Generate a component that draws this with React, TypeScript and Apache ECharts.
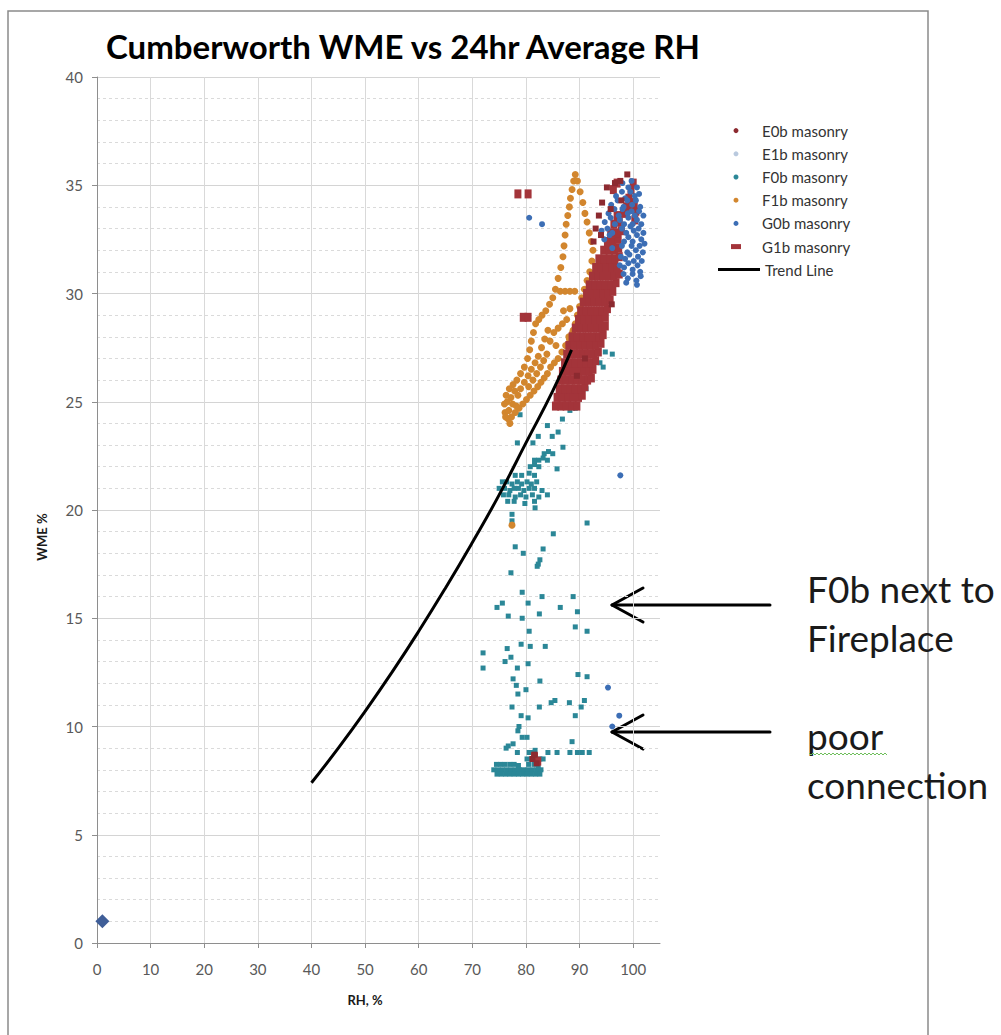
import React, { useEffect, useRef } from "react";
import * as echarts from "echarts";

// ---- data: [RH %, WME %] ----
const e0bMasonry: [number, number][] = [
  [98.9, 35.5], [97.6, 35.2], [96.6, 35.1], [95.1, 34.9], [94.2, 34.2], [93.6, 33.6],
  [93.0, 33.0], [95.8, 33.9], [92.6, 32.4], [94.0, 32.7], [96.0, 29.5], [91.0, 27.0],
  [89.5, 26.2], [97.8, 34.3], [81.2, 8.5], [82.0, 8.3], [81.6, 8.7],
];

const e1bMasonry: [number, number][] = [];

const f0bMasonry: [number, number][] = [
  [94.8, 27.3], [96.1, 27.2], [93.8, 26.8], [94.4, 26.6], [90.1, 26.0], [91.2, 25.6],
  [88.2, 24.6], [89.2, 24.7], [86.8, 24.2], [78.9, 24.4], [84.0, 23.9], [86.0, 23.6],
  [84.9, 23.4], [82.3, 23.4], [78.4, 23.1], [81.3, 23.1], [86.9, 22.9],
  [83.4, 22.6], [84.2, 22.7], [85.0, 22.6], [81.6, 22.3], [82.4, 22.3], [83.2, 22.4],
  [84.0, 22.3], [80.8, 22.0], [81.6, 22.1], [82.4, 22.0], [85.8, 21.9],
  [78.0, 21.6], [79.2, 21.6], [80.6, 21.7], [81.6, 21.6],
  [75.6, 21.3], [76.4, 21.3], [77.4, 21.2], [78.4, 21.3], [79.2, 21.2], [80.2, 21.3],
  [81.0, 21.2], [82.0, 21.3],
  [75.0, 21.0], [76.0, 21.0], [77.0, 20.9], [77.8, 21.0], [78.6, 21.0], [79.6, 20.9],
  [80.6, 21.0], [81.6, 21.0], [83.0, 20.9],
  [75.8, 20.7], [76.8, 20.7], [78.0, 20.6], [79.0, 20.7], [80.0, 20.6], [81.2, 20.7],
  [82.4, 20.6], [84.0, 20.7],
  [76.6, 20.4], [77.8, 20.4], [79.8, 20.3], [81.6, 20.4], [81.7, 20.1],
  [77.4, 19.8], [77.4, 19.5], [91.4, 19.4], [85.1, 18.9], [78.0, 18.3], [79.5, 18.0],
  [83.2, 18.2], [82.6, 17.7], [82.3, 17.5], [82.1, 17.4], [77.2, 17.1], [79.3, 16.2],
  [83.0, 16.0], [88.8, 16.0], [74.6, 15.5], [75.6, 15.7], [80.4, 15.7], [86.4, 15.5],
  [89.6, 15.3], [76.7, 15.1], [79.3, 15.0], [82.5, 15.2], [89.2, 14.6], [91.4, 14.4],
  [80.6, 14.4], [79.1, 13.8], [80.8, 13.7], [83.6, 13.7], [76.5, 13.6], [72.0, 13.4],
  [77.2, 13.2], [76.1, 13.0], [72.0, 12.7], [78.4, 12.7], [80.4, 12.9], [89.7, 12.4],
  [91.4, 12.3], [77.6, 12.2], [78.2, 11.9], [82.6, 12.1], [80.0, 11.7], [78.5, 11.5],
  [84.7, 11.1], [85.4, 11.2], [88.1, 11.1], [90.9, 11.2], [77.4, 10.9], [82.5, 10.9],
  [90.3, 10.9], [79.1, 10.5], [80.4, 10.4], [89.2, 10.5], [78.7, 10.0], [78.5, 9.8],
  [79.3, 9.5], [80.2, 9.5], [77.6, 9.2], [76.7, 9.1], [76.3, 9.0], [88.6, 9.3],
  [78.4, 8.8], [81.7, 8.9], [81.3, 8.8], [84.1, 8.8], [85.8, 8.8], [88.2, 8.8],
  [89.6, 8.8], [90.5, 8.8], [91.8, 8.8], [80.6, 8.8],
  [80.2, 8.5], [81.0, 8.5], [81.8, 8.5], [82.6, 8.5], [83.2, 8.5],
  [74.5, 8.25], [75.3, 8.25], [76.1, 8.25], [77.0, 8.25], [77.8, 8.25], [78.6, 8.2],
  [80.5, 8.25], [81.5, 8.25], [82.3, 8.2],
  [74.0, 8.0], [74.8, 8.0], [75.6, 8.0], [76.4, 8.0], [77.2, 8.0], [78.0, 8.0],
  [78.8, 8.0], [79.6, 8.0], [80.4, 8.0], [81.2, 8.0], [82.0, 8.0], [82.8, 8.0],
  [74.6, 7.8], [75.4, 7.8], [76.2, 7.8], [77.0, 7.8], [77.8, 7.8], [78.6, 7.8],
  [79.4, 7.8], [80.2, 7.8], [81.0, 7.8], [81.8, 7.8], [82.6, 7.8],
];

const f1bMasonry: [number, number][] = [
  // outer strand
  [89.2, 35.5], [88.9, 35.2], [88.6, 34.8], [88.3, 34.4], [88.1, 34.0], [87.8, 33.6],
  [87.5, 33.2], [87.3, 32.7], [87.1, 32.2], [86.9, 31.7], [86.5, 31.2], [86.0, 30.7],
  [85.5, 30.2], [85.0, 29.8], [84.4, 29.5], [83.7, 29.2], [83.0, 29.0], [82.4, 28.8],
  [81.8, 28.6], [81.4, 28.2], [81.0, 27.8], [80.7, 27.4], [80.3, 27.0], [79.7, 26.6],
  [79.0, 26.3], [78.3, 26.0], [77.6, 25.8], [76.9, 25.6], [76.3, 25.3], [76.0, 24.9],
  [76.1, 24.5], [76.7, 24.2], [77.3, 24.3],
  // inner strand
  [89.6, 35.2], [90.1, 34.7], [90.6, 34.2], [91.0, 33.7], [91.4, 33.3], [91.8, 32.8],
  [92.2, 32.4], [92.5, 32.0], [92.3, 31.5], [91.9, 31.0], [91.4, 30.6], [90.9, 30.2],
  [90.4, 29.8], [90.0, 29.4], [89.6, 29.0], [89.2, 28.6], [88.7, 28.2], [88.1, 27.9],
  [87.4, 27.6], [86.7, 27.3], [86.0, 27.0], [85.3, 26.8], [84.6, 26.6], [84.0, 26.3],
  [83.4, 26.1], [82.8, 25.9], [82.2, 25.7], [81.5, 25.5], [80.8, 25.3], [80.1, 25.1],
  [79.4, 24.9], [78.7, 24.7], [78.0, 24.5],
  // between the strands
  [86.4, 30.1], [87.3, 30.1], [88.2, 30.1], [89.1, 30.1],
  [85.2, 28.2], [86.0, 28.4], [86.8, 28.6], [87.6, 28.8], [88.2, 29.3], [87.0, 29.2],
  [84.5, 27.8], [85.6, 27.6], [88.0, 28.0], [88.8, 28.3], [89.4, 28.0], [88.6, 27.6],
  [76.2, 24.3], [76.8, 24.6], [77.5, 24.9], [76.5, 25.0], [77.2, 25.2], [77.9, 25.5],
  [78.5, 25.3], [77.0, 24.0], [78.2, 24.8], [79.0, 25.6], [79.7, 25.9], [80.4, 26.2],
  [81.0, 26.5], [81.7, 26.8], [82.3, 27.1], [82.9, 27.5], [83.5, 27.9], [84.1, 28.3],
  [80.5, 25.7], [81.3, 26.0], [82.0, 26.3], [82.7, 26.6], [83.3, 26.9], [83.9, 27.2],
  [77.4, 19.3],
];

const g0bMasonry: [number, number][] = [
  [98.0, 35.1], [99.1, 34.9], [99.7, 35.2], [100.7, 34.9],
  [96.8, 34.5], [97.9, 34.7], [98.5, 34.4], [99.5, 34.7], [100.3, 34.5], [101.1, 34.6],
  [95.9, 34.1], [97.1, 34.3], [98.2, 34.0], [98.9, 34.3], [99.8, 34.1], [100.5, 34.3], [101.3, 34.0],
  [95.4, 33.7], [96.5, 33.9], [97.3, 33.6], [98.0, 33.9], [99.0, 33.7], [99.7, 33.8],
  [100.3, 33.6], [101.1, 33.8], [101.9, 33.6],
  [94.7, 33.3], [95.8, 33.5], [96.6, 33.2], [97.5, 33.4], [98.3, 33.2], [99.1, 33.5],
  [99.9, 33.2], [100.7, 33.4], [101.5, 33.2],
  [94.1, 32.9], [95.2, 33.0], [96.1, 32.8], [97.9, 33.0], [98.7, 32.8], [99.5, 33.1],
  [100.1, 32.9], [101.0, 33.0], [101.9, 32.8],
  [94.6, 32.5], [95.6, 32.7], [98.3, 32.4], [99.1, 32.6], [99.9, 32.4], [100.7, 32.7],
  [101.5, 32.5], [102.1, 32.3],
  [96.1, 32.1], [97.9, 32.2], [98.9, 31.9], [99.7, 32.2], [100.5, 32.0], [101.2, 32.2], [101.8, 31.9],
  [97.7, 31.7], [98.5, 31.6], [99.3, 31.8], [100.1, 31.5], [100.9, 31.7], [101.6, 31.5],
  [97.5, 31.3], [98.3, 31.2], [99.1, 31.4], [99.9, 31.1], [100.8, 31.3], [101.3, 31.0],
  [98.2, 30.9], [99.0, 30.7], [99.9, 30.9], [100.6, 30.6],
  [98.7, 30.5], [100.7, 30.4], [101.4, 30.8],
  [83.0, 33.2], [80.6, 33.5],
  [97.6, 21.6], [95.3, 11.8], [96.1, 10.0], [97.4, 10.5],
];

const g1bMasonry: [number, number][] = [
  [85.5, 24.8], [86.5, 24.8], [87.5, 24.8], [88.5, 24.8], [89.5, 24.8],
  [85.8, 25.2], [86.8, 25.2], [87.8, 25.2], [88.8, 25.2], [89.8, 25.2], [90.5, 25.3],
  [86.2, 25.6], [87.2, 25.6], [88.2, 25.6], [89.2, 25.6], [90.2, 25.6], [91.0, 25.7],
  [86.5, 26.0], [87.5, 26.0], [88.5, 26.0], [89.5, 26.0], [90.5, 26.0], [91.5, 26.0], [92.2, 26.1],
  [86.8, 26.4], [87.8, 26.4], [88.8, 26.4], [89.8, 26.4], [90.8, 26.4], [91.8, 26.4], [92.5, 26.5],
  [87.2, 26.8], [88.2, 26.8], [89.2, 26.8], [90.2, 26.8], [91.2, 26.8], [92.2, 26.8], [93.0, 26.9],
  [87.6, 27.2], [88.6, 27.2], [89.6, 27.2], [90.6, 27.2], [91.6, 27.2], [92.6, 27.2], [93.5, 27.3],
  [88.0, 27.6], [89.0, 27.6], [90.0, 27.6], [91.0, 27.6], [92.0, 27.6], [93.0, 27.6], [94.0, 27.7],
  [88.6, 28.0], [89.6, 28.0], [90.6, 28.0], [91.6, 28.0], [92.6, 28.0], [93.6, 28.0], [94.4, 28.1],
  [89.2, 28.4], [90.2, 28.4], [91.2, 28.4], [92.2, 28.4], [93.2, 28.4], [94.2, 28.4], [94.8, 28.5],
  [89.8, 28.8], [90.8, 28.8], [91.8, 28.8], [92.8, 28.8], [93.8, 28.8], [94.8, 28.9],
  [90.2, 29.2], [91.2, 29.2], [92.2, 29.2], [93.2, 29.2], [94.2, 29.2], [95.2, 29.3],
  [90.7, 29.6], [91.7, 29.6], [92.7, 29.6], [93.7, 29.6], [94.7, 29.6], [95.7, 29.7],
  [91.3, 30.0], [92.3, 30.0], [93.3, 30.0], [94.3, 30.0], [95.3, 30.0], [96.2, 30.1],
  [91.8, 30.4], [92.8, 30.4], [93.8, 30.4], [94.8, 30.4], [95.8, 30.4], [96.8, 30.5],
  [92.4, 30.8], [93.4, 30.8], [94.4, 30.8], [95.4, 30.8], [96.4, 30.8], [97.4, 30.9],
  [93.0, 31.2], [94.0, 31.2], [95.0, 31.2], [96.0, 31.2], [97.0, 31.2],
  [93.6, 31.6], [94.6, 31.6], [95.6, 31.6], [96.6, 31.6], [97.4, 31.7],
  [94.5, 32.0], [95.5, 32.0], [96.5, 32.0], [97.3, 32.1],
  [95.2, 32.4], [96.2, 32.4], [97.2, 32.5],
  [95.8, 32.8], [96.8, 32.8], [97.8, 32.9],
  [96.4, 33.2], [97.4, 33.3], [97.0, 33.6], [98.2, 33.7],
  [98.8, 34.0], [99.6, 34.1], [99.2, 34.4], [99.6, 34.8], [100.0, 35.1],
  [97.0, 35.1], [96.3, 34.8], [100.3, 33.4], [100.5, 33.8], [100.2, 34.2],
  [78.5, 34.6], [80.4, 34.6], [79.5, 28.9], [80.4, 28.9], [81.6, 8.6], [82.2, 8.4],
];

// visible part of the fitted trend
const trendLine: [number, number][] = [
  [40, 7.4], [45, 9.0], [50, 10.7], [55, 12.5], [60, 14.4], [65, 16.4], [70, 18.5],
  [75, 20.7], [80, 23.1], [85, 25.5], [88.5, 27.4],
];

const originMarker: [number, number][] = [[1, 1]];

const FONT = "Lato, 'Liberation Sans', sans-serif";

const seriesColors: Record<string, string> = {
  "E0b masonry": "#8C2A30",
  "E1b masonry": "#B9C9DE",
  "F0b masonry": "#2B8797",
  "F1b masonry": "#D2862E",
  "G0b masonry": "#3C6EB5",
  "G1b masonry": "#A3343A",
};

const scatterLegendNames = [
  "E0b masonry", "E1b masonry", "F0b masonry", "F1b masonry", "G0b masonry", "G1b masonry",
];

function buildSquiggle(x0: number, x1: number, y: number): number[][] {
  const pts: number[][] = [];
  let up = true;
  for (let x = x0; x <= x1; x += 2) {
    pts.push([x, up ? y - 1 : y + 1]);
    up = !up;
  }
  return pts;
}

function scatter(name: string, data: [number, number][], symbol: string, size: number | number[], z: number) {
  return {
    type: "scatter" as const,
    name,
    data,
    symbol,
    symbolSize: size,
    itemStyle: { color: seriesColors[name], opacity: 1 },
    z,
  };
}

function arrow(y: number) {
  const s = { stroke: "#000", lineWidth: 3, lineCap: "round" as const };
  return [
    { type: "line", shape: { x1: 613, y1: y, x2: 770, y2: y }, style: s },
    { type: "line", shape: { x1: 612, y1: y, x2: 643, y2: y - 17 }, style: s },
    { type: "line", shape: { x1: 612, y1: y, x2: 643, y2: y + 17 }, style: s },
  ];
}

function buildOption(): echarts.EChartsOption {
  const axisLabelStyle = { color: "#595959", fontSize: 15, fontFamily: FONT };
  return {
    animation: false,
    backgroundColor: "#ffffff",
    title: {
      text: "Cumberworth WME vs 24hr Average RH",
      left: 101,
      top: 24,
      textStyle: { fontFamily: FONT, fontWeight: "bold", fontSize: 33, color: "#000000" },
    },
    grid: { left: 97, top: 77, width: 563, height: 866, outerBoundsMode: "none" } as any,
    legend: [
      {
        orient: "vertical",
        left: 726,
        top: 114,
        itemWidth: 42,
        itemHeight: 5,
        itemGap: 0,
        selectedMode: false,
        textStyle: { fontFamily: FONT, fontSize: 15, color: "#333333", lineHeight: 23.2 },
        data: scatterLegendNames.map((n) =>
          n === "G1b masonry"
            ? { name: n, icon: "path://M0,0h10v5h-10z", itemStyle: { color: seriesColors[n] } }
            : { name: n, icon: "circle", itemStyle: { color: seriesColors[n] } }
        ),
      },
      {
        orient: "vertical",
        left: 713,
        top: 253,
        itemWidth: 42,
        itemHeight: 3,
        selectedMode: false,
        textStyle: { fontFamily: FONT, fontSize: 15, color: "#333333", lineHeight: 23.2 },
        data: [{ name: "Trend Line", icon: "rect", itemStyle: { color: "#000000" } }],
      },
    ],
    xAxis: {
      type: "value",
      min: 0,
      max: 105,
      interval: 10,
      axisLine: { show: true, lineStyle: { color: "#8E8E8E", width: 1 } },
      axisTick: { show: true, inside: false, length: 5, lineStyle: { color: "#8E8E8E" } },
      axisLabel: {
        ...axisLabelStyle,
        margin: 18,
        showMaxLabel: false,
        formatter: (v: number) => (v % 10 === 0 ? String(v) : ""),
      },
      splitLine: { show: true, showMaxLine: false, lineStyle: { color: "#D9D9D9", width: 1 } } as any,
    },
    yAxis: {
      type: "value",
      min: 0,
      max: 40,
      interval: 5,
      axisLine: { show: true, lineStyle: { color: "#8E8E8E", width: 1 } },
      axisTick: { show: true, inside: false, length: 5, lineStyle: { color: "#8E8E8E" } },
      axisLabel: { ...axisLabelStyle, margin: 14 },
      splitLine: { show: true, lineStyle: { color: "#D4D4D4", width: 1 } },
      minorTick: { show: false, splitNumber: 5 },
      minorSplitLine: { show: true, lineStyle: { color: "#DADADA", width: 1, type: [3, 3] } },
    },
    graphic: [
      // chart frame
      {
        type: "rect",
        shape: { x: 8, y: 11, width: 920, height: 1040 },
        style: { fill: "none", stroke: "#8A8A8A", lineWidth: 1.5 },
        z: 100,
      },
      {
        type: "text",
        x: 42,
        y: 537,
        rotation: Math.PI / 2,
        style: {
          text: "WME %",
          font: `bold 13px ${FONT}`,
          fill: "#1a1a1a",
          align: "center",
          verticalAlign: "middle",
        },
      },
      {
        type: "text",
        x: 365,
        y: 1000,
        style: {
          text: "RH, %",
          font: `bold 13px ${FONT}`,
          fill: "#1a1a1a",
          align: "center",
          verticalAlign: "middle",
        },
      },
      // annotation arrows
      ...arrow(605),
      ...arrow(732),
      ...[
        { t: "F0b next to", y: 588 },
        { t: "Fireplace", y: 637 },
        { t: "poor", y: 735 },
        { t: "connection", y: 784 },
      ].map((a) => ({
        type: "text" as const,
        x: 807,
        y: a.y,
        z: 101,
        style: {
          text: a.t,
          font: `37px ${FONT}`,
          fill: "#1a1a1a",
          align: "left" as const,
          verticalAlign: "middle" as const,
        },
      })),
      {
        type: "polyline",
        shape: { points: buildSquiggle(809, 887, 754) },
        style: { stroke: "#6DBE5A", lineWidth: 1, fill: "none" },
        z: 101,
      },
    ] as any,
    series: [
      scatter("F0b masonry", f0bMasonry, "rect", 5, 2),
      scatter("F1b masonry", f1bMasonry, "circle", 7, 3),
      scatter("G1b masonry", g1bMasonry, "rect", [7, 9], 4),
      scatter("G0b masonry", g0bMasonry, "circle", 6, 5),
      scatter("E1b masonry", e1bMasonry, "circle", 5, 5),
      scatter("E0b masonry", e0bMasonry, "rect", 6, 6),
      {
        type: "line",
        name: "Trend Line",
        data: trendLine,
        smooth: true,
        showSymbol: false,
        symbol: "none",
        lineStyle: { color: "#000000", width: 3 },
        itemStyle: { color: "#000000" },
        z: 7,
      },
      {
        type: "scatter",
        name: "origin",
        data: originMarker,
        symbol: "diamond",
        symbolSize: 14,
        itemStyle: { color: "#3F5E98", opacity: 1 },
        z: 6,
      },
    ],
  };
}

export default function App() {
  const ref = useRef<HTMLDivElement>(null);
  useEffect(() => {
    if (!ref.current) return;
    const chart = echarts.init(ref.current, null, { renderer: "svg" });
    chart.setOption(buildOption());
    return () => chart.dispose();
  }, []);
  return (
    <div
      ref={ref}
      style={{ position: "absolute", left: 0, top: 0, width: 1001, height: 1035, background: "#fff" }}
    />
  );
}
